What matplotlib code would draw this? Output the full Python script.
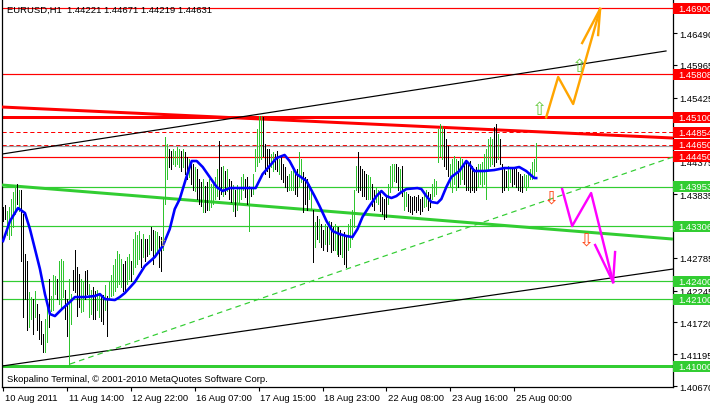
import matplotlib
matplotlib.use("Agg")
import matplotlib.pyplot as plt
from matplotlib.patches import Rectangle

plt.rcParams['font.family'] = ['Liberation Sans', 'DejaVu Sans']
plt.rcParams['lines.scale_dashes'] = False

# ---------------- data ----------------
title_text = "EURUSD,H1  1.44221 1.44671 1.44219 1.44631"
footer_text = "Skopalino Terminal, \u00a9 2001-2010 MetaQuotes Software Corp."

price_ticks = [1.46490, 1.45965, 1.45425, 1.44900, 1.44375, 1.43835,
               1.43310, 1.42785, 1.42245, 1.41720, 1.41195, 1.40670]
date_tick_bars = [0, 32, 64, 96, 128, 160, 192, 224, 256]
date_labels = ["10 Aug 2011", "11 Aug 14:00", "12 Aug 22:00", "16 Aug 07:00",
               "17 Aug 15:00", "18 Aug 23:00", "22 Aug 08:00", "23 Aug 16:00",
               "25 Aug 00:00"]

# hourly bars (one per hour, oldest first)
bar_high = [
    1.4362, 1.4365, 1.4355, 1.4362, 1.4375, 1.4387, 1.4395, 1.4400, 1.4391, 1.4391,
    1.4350, 1.4284, 1.4273, 1.4222, 1.4213, 1.4210, 1.4223, 1.4202, 1.4185, 1.4174,
    1.4152, 1.4177, 1.4205, 1.4243, 1.4215, 1.4250, 1.4248, 1.4243, 1.4273, 1.4276,
    1.4273, 1.4226, 1.4210, 1.4243, 1.4218, 1.4259, 1.4292, 1.4263, 1.4251, 1.4243,
    1.4240, 1.4256, 1.4259, 1.4235, 1.4226, 1.4230, 1.4223, 1.4226, 1.4217, 1.4213,
    1.4217, 1.4233, 1.4215, 1.4240, 1.4250, 1.4266, 1.4276, 1.4289, 1.4284, 1.4276,
    1.4268, 1.4273, 1.4279, 1.4284, 1.4273, 1.4309, 1.4321, 1.4316, 1.4322, 1.4309,
    1.4317, 1.4309, 1.4309, 1.4316, 1.4329, 1.4325, 1.4322, 1.4321, 1.4314, 1.4312,
    1.4378, 1.4477, 1.4466, 1.4457, 1.4454, 1.4457, 1.4454, 1.4461, 1.4457, 1.4454,
    1.4457, 1.4453, 1.4444, 1.4441, 1.4438, 1.4433, 1.4428, 1.4424, 1.4408, 1.4403,
    1.4408, 1.4396, 1.4403, 1.4408, 1.4400, 1.4405, 1.4411, 1.4424, 1.4471, 1.4428,
    1.4429, 1.4421, 1.4424, 1.4408, 1.4405, 1.4398, 1.4391, 1.4398, 1.4395, 1.4411,
    1.4416, 1.4408, 1.4411, 1.4396, 1.4395, 1.4416, 1.4457, 1.4490, 1.4512, 1.4512,
    1.4510, 1.4466, 1.4457, 1.4457, 1.4449, 1.4453, 1.4449, 1.4454, 1.4441, 1.4444,
    1.4433, 1.4428, 1.4413, 1.4416, 1.4421, 1.4428, 1.4421, 1.4424, 1.4453, 1.4441,
    1.4420, 1.4411, 1.4408, 1.4400, 1.4391, 1.4358, 1.4337, 1.4347, 1.4342, 1.4334,
    1.4325, 1.4334, 1.4330, 1.4339, 1.4337, 1.4329, 1.4334, 1.4330, 1.4329, 1.4325,
    1.4317, 1.4321, 1.4312, 1.4334, 1.4342, 1.4358, 1.4391, 1.4429, 1.4453, 1.4429,
    1.4424, 1.4421, 1.4416, 1.4415, 1.4411, 1.4400, 1.4391, 1.4395, 1.4391, 1.4388,
    1.4378, 1.4375, 1.4378, 1.4400, 1.4429, 1.4433, 1.4433, 1.4433, 1.4428, 1.4424,
    1.4429, 1.4391, 1.4387, 1.4383, 1.4380, 1.4378, 1.4380, 1.4378, 1.4382, 1.4375,
    1.4378, 1.4387, 1.4391, 1.4387, 1.4383, 1.4400, 1.4408, 1.4405, 1.4490, 1.4499,
    1.4495, 1.4490, 1.4474, 1.4462, 1.4433, 1.4441, 1.4446, 1.4441, 1.4438, 1.4444,
    1.4441, 1.4433, 1.4438, 1.4433, 1.4438, 1.4429, 1.4424, 1.4428, 1.4433, 1.4433,
    1.4436, 1.4449, 1.4457, 1.4474, 1.4477, 1.4474, 1.4494, 1.4499, 1.4482, 1.4474,
    1.4433, 1.4424, 1.4421, 1.4429, 1.4428, 1.4428, 1.4424, 1.4424, 1.4420, 1.4416,
    1.4413, 1.4416, 1.4415, 1.4420, 1.4424, 1.4436, 1.4441, 1.44671]
bar_low = [
    1.4339, 1.4342, 1.4316, 1.4309, 1.4316, 1.4329, 1.4350, 1.4367, 1.4355, 1.4273,
    1.4180, 1.4210, 1.4160, 1.4165, 1.4177, 1.4152, 1.4180, 1.4160, 1.4144, 1.4136,
    1.4123, 1.4123, 1.4139, 1.4165, 1.4190, 1.4193, 1.4218, 1.4210, 1.4202, 1.4198,
    1.4213, 1.4177, 1.4149, 1.4101, 1.4169, 1.4226, 1.4222, 1.4182, 1.4198, 1.4189,
    1.4190, 1.4210, 1.4218, 1.4180, 1.4185, 1.4177, 1.4177, 1.4193, 1.4180, 1.4174,
    1.4170, 1.4193, 1.4149, 1.4210, 1.4215, 1.4217, 1.4223, 1.4231, 1.4235, 1.4231,
    1.4223, 1.4222, 1.4235, 1.4243, 1.4240, 1.4251, 1.4263, 1.4268, 1.4276, 1.4263,
    1.4279, 1.4273, 1.4281, 1.4284, 1.4292, 1.4268, 1.4279, 1.4288, 1.4263, 1.4256,
    1.4292, 1.4367, 1.4408, 1.4428, 1.4424, 1.4433, 1.4429, 1.4433, 1.4428, 1.4421,
    1.4428, 1.4416, 1.4408, 1.4411, 1.4400, 1.4391, 1.4388, 1.4375, 1.4367, 1.4363,
    1.4354, 1.4354, 1.4358, 1.4358, 1.4362, 1.4367, 1.4375, 1.4380, 1.4375, 1.4383,
    1.4380, 1.4383, 1.4388, 1.4375, 1.4370, 1.4355, 1.4347, 1.4358, 1.4367, 1.4375,
    1.4391, 1.4378, 1.4367, 1.4322, 1.4380, 1.4383, 1.4421, 1.4429, 1.4436, 1.4441,
    1.4446, 1.4416, 1.4421, 1.4411, 1.4428, 1.4421, 1.4424, 1.4421, 1.4416, 1.4408,
    1.4403, 1.4395, 1.4388, 1.4391, 1.4391, 1.4391, 1.4383, 1.4380, 1.4396, 1.4403,
    1.4354, 1.4367, 1.4358, 1.4375, 1.4358, 1.4271, 1.4297, 1.4309, 1.4304, 1.4297,
    1.4292, 1.4301, 1.4289, 1.4301, 1.4288, 1.4292, 1.4292, 1.4284, 1.4281, 1.4284,
    1.4279, 1.4268, 1.4263, 1.4292, 1.4297, 1.4309, 1.4330, 1.4391, 1.4387, 1.4391,
    1.4380, 1.4380, 1.4375, 1.4375, 1.4375, 1.4363, 1.4358, 1.4370, 1.4367, 1.4355,
    1.4350, 1.4342, 1.4345, 1.4367, 1.4387, 1.4395, 1.4405, 1.4403, 1.4391, 1.4388,
    1.4380, 1.4358, 1.4363, 1.4355, 1.4354, 1.4350, 1.4358, 1.4354, 1.4358, 1.4350,
    1.4355, 1.4362, 1.4363, 1.4358, 1.4362, 1.4375, 1.4380, 1.4383, 1.4436, 1.4446,
    1.4441, 1.4429, 1.4424, 1.4413, 1.4396, 1.4387, 1.4400, 1.4391, 1.4395, 1.4400,
    1.4408, 1.4400, 1.4391, 1.4391, 1.4387, 1.4391, 1.4387, 1.4391, 1.4395, 1.4400,
    1.4396, 1.4400, 1.4375, 1.4424, 1.4429, 1.4433, 1.4429, 1.4436, 1.4441, 1.4433,
    1.4387, 1.4391, 1.4395, 1.4391, 1.4403, 1.4396, 1.4400, 1.4395, 1.4391, 1.4388,
    1.4387, 1.4396, 1.4391, 1.4396, 1.4408, 1.4408, 1.4411, 1.44219]
bar_up = [
    0, 0, 1, 1, 1, 1, 1, 0, 1, 0,
    0, 0, 0, 1, 1, 0, 1, 0, 0, 0,
    0, 1, 1, 0, 1, 1, 1, 0, 1, 1,
    1, 0, 0, 1, 1, 0, 0, 0, 0, 1,
    1, 0, 0, 1, 1, 0, 0, 1, 1, 0,
    0, 1, 0, 1, 1, 1, 1, 1, 1, 1,
    0, 0, 1, 1, 0, 1, 1, 1, 1, 0,
    1, 0, 0, 1, 0, 0, 1, 1, 0, 0,
    1, 1, 1, 0, 0, 1, 1, 1, 1, 0,
    1, 0, 0, 1, 0, 0, 1, 0, 0, 0,
    1, 0, 0, 1, 1, 1, 1, 1, 0, 0,
    1, 0, 1, 0, 0, 1, 0, 1, 1, 1,
    1, 0, 0, 1, 0, 1, 1, 1, 1, 1,
    0, 0, 0, 0, 1, 1, 0, 0, 1, 0,
    0, 0, 0, 1, 1, 1, 0, 0, 1, 1,
    0, 0, 0, 1, 1, 0, 1, 0, 1, 0,
    0, 1, 0, 1, 0, 0, 1, 1, 0, 0,
    1, 0, 0, 1, 1, 1, 1, 1, 0, 0,
    0, 0, 0, 1, 1, 0, 0, 1, 1, 0,
    0, 0, 0, 1, 1, 1, 1, 0, 0, 1,
    0, 1, 1, 0, 0, 0, 0, 0, 0, 0,
    0, 1, 1, 0, 0, 1, 1, 1, 1, 1,
    1, 0, 0, 0, 1, 1, 1, 1, 0, 1,
    1, 0, 0, 0, 0, 0, 0, 0, 1, 1,
    1, 1, 1, 1, 1, 1, 0, 0, 1, 0,
    0, 0, 0, 1, 1, 0, 0, 0, 0, 0,
    0, 1, 1, 1, 1, 1, 1, 1]

red_levels = [1.46900, 1.45808, 1.45100, 1.44854, 1.44650, 1.44450]
red_kinds = ["solid", "solid", "thick", "dashed", "dashed", "solid"]
green_levels = [1.43953, 1.43306, 1.42400, 1.42100, 1.41000]
green_kinds = ["solid", "solid", "solid", "solid", "thick"]
bid_price = 1.44631

ma_bar = [0, 3.5, 7.5, 11, 13.5, 16, 18.5, 21, 23.5, 26, 29.5, 33.5, 36, 41, 46,
          48.5, 51, 56, 58.5, 61, 66, 71, 76, 80, 83.5, 86, 88.5, 92, 94.5, 97,
          100, 103.5, 107, 110, 113.5, 126.5, 130, 133.5, 137, 141, 143.5, 147,
          152, 156, 158.5, 162, 165, 168.5, 172, 175, 177.5, 180, 183.5, 187,
          189.5, 192, 194.5, 197, 199.5, 202, 207.5, 209.5, 212, 214.5, 217.5,
          219.5, 222, 224.5, 228.5, 232, 233.5, 236, 241, 246, 251, 256, 258.5,
          262, 266, 267]
ma_price = [1.43060, 1.43390, 1.43605, 1.43522, 1.43258, 1.42929, 1.42599,
            1.42186, 1.41857, 1.41824, 1.41939, 1.42055, 1.42137, 1.42137,
            1.42154, 1.42186, 1.42104, 1.42088, 1.42137, 1.42203, 1.42384,
            1.42648, 1.42797, 1.42978, 1.43258, 1.43588, 1.43753, 1.44132,
            1.44380, 1.44380, 1.44281, 1.44116, 1.43951, 1.43885, 1.43934,
            1.43934, 1.44165, 1.44297, 1.44429, 1.44479, 1.44380, 1.44165,
            1.44050, 1.43802, 1.43638, 1.43390, 1.43225, 1.43176, 1.43143,
            1.43126, 1.43258, 1.43456, 1.43638, 1.43802, 1.43885, 1.43802,
            1.43770, 1.43802, 1.43868, 1.43918, 1.43934, 1.43918, 1.43802,
            1.43704, 1.43687, 1.43753, 1.43951, 1.44116, 1.44215, 1.44380,
            1.44330, 1.44215, 1.44215, 1.44231, 1.44264, 1.44264, 1.44281,
            1.44215, 1.44099, 1.44099]

# trend lines: (bar0, price0, bar1, price1)
red_trend = (-0.5, 1.45270, 335.5, 1.44759)
black_upper = (-0.5, 1.44495, 332.0, 1.46194)
black_lower = (-0.5, 1.41000, 335.5, 1.42599)
green_trend = (-0.5, 1.43984, 335.5, 1.43093)
green_dashed = (33.5, 1.41032, 335.5, 1.44446)

orange_bar = [272, 278, 285.5, 299]
orange_price = [1.45100, 1.45765, 1.45320, 1.46886]
orange_head_bar = [290, 298]
orange_head_price = [1.46325, 1.46457]
magenta_bar = [280, 285, 294.5, 305.5]
magenta_price = [1.43918, 1.43308, 1.43852, 1.42384]
magenta_head_bar = [296.5, 306.5]
magenta_head_price = [1.42995, 1.42879]

up_arrow_bar = [268.5, 288.5]
up_arrow_price = [1.45237, 1.45946]
down_arrow_bar = [274.5, 292.0]
down_arrow_price = [1.43770, 1.43093]
signal_bar = [80]
signal_price = [1.43044]

# ---------------- figure ----------------
W, H = 710, 406
fig = plt.figure(figsize=(W / 100, H / 100), dpi=100)
fig.patch.set_facecolor("white")
ax = fig.add_axes([2 / W, 18 / H, 671 / W, 388 / H])
ax.set_xlim(-0.5, 335.5)
ax.set_ylim(1.40654, 1.47051)
ax.set_facecolor("white")

ax.spines["top"].set_visible(False)
for s in ["left", "right", "bottom"]:
    ax.spines[s].set_color("black")
    ax.spines[s].set_linewidth(0.9)

px = 0.72  # one pixel in points

# horizontal levels
for lv, kind in zip(red_levels, red_kinds):
    if kind == "thick":
        ax.axhline(lv, color="#ff0000", lw=3 * px, zorder=2)
    elif kind == "dashed":
        ax.axhline(lv, color="#ff0000", lw=1 * px, ls=(0, (3, 2)), zorder=2)
    else:
        ax.axhline(lv, color="#ff0000", lw=1.2 * px, zorder=2)
for lv, kind in zip(green_levels, green_kinds):
    if kind == "thick":
        ax.axhline(lv, color="#32cd32", lw=3 * px, zorder=2)
    else:
        ax.axhline(lv, color="#32cd32", lw=1.2 * px, zorder=2)
ax.axhline(bid_price, color="#a0a0a4", lw=1.2 * px, zorder=2)

# trend lines
def seg(t, **kw):
    ax.plot([t[0], t[2]], [t[1], t[3]], **kw)

seg(red_trend, color="#ff0000", lw=3 * px, zorder=3, solid_capstyle="butt")
seg(black_upper, color="black", lw=1.2 * px, zorder=3)
seg(black_lower, color="black", lw=1.2 * px, zorder=3)
seg(green_trend, color="#32cd32", lw=3 * px, zorder=3, solid_capstyle="butt")
seg(green_dashed, color="#32cd32", lw=1.2 * px, ls=(0, (4, 3)), zorder=3)

# price bars
idx = list(range(len(bar_high)))
cols = ["#2fc42f" if u else "black" for u in bar_up]
ax.vlines(idx, bar_low, bar_high, colors=cols, lw=1.0 * px, zorder=4,
          antialiased=False)

# moving average
ax.plot(ma_bar, ma_price, color="#0000ff", lw=2.6 * px, zorder=5)

# projections
ax.plot(orange_bar, orange_price, color="#ffa500", lw=2.4 * px, zorder=6)
for b, p in zip(orange_head_bar, orange_head_price):
    ax.plot([b, orange_bar[-1]], [p, orange_price[-1]], color="#ffa500", lw=2.4 * px, zorder=6)
ax.plot(magenta_bar, magenta_price, color="#ff00ff", lw=2.4 * px, zorder=6)
for b, p in zip(magenta_head_bar, magenta_head_price):
    ax.plot([b, magenta_bar[-1]], [p, magenta_price[-1]], color="#ff00ff", lw=2.4 * px, zorder=6)

for b, p in zip(up_arrow_bar, up_arrow_price):
    ax.text(b, p, "\u21e7", family="DejaVu Sans", fontsize=13, color="#6ccc44",
            ha="center", va="center", zorder=7)
for b, p in zip(down_arrow_bar, down_arrow_price):
    ax.text(b, p, "\u21e9", family="DejaVu Sans", fontsize=13, color="#ff4a1a",
            ha="center", va="center", zorder=7)
for b, p in zip(signal_bar, signal_price):
    ax.text(b, p, "\u21e7", family="DejaVu Sans", fontsize=7, color="#d8d840",
            ha="center", va="center", zorder=7)

# axes ticks
ax.yaxis.tick_right()
ax.set_yticks(price_ticks)
ax.set_yticklabels([f"{v:.5f}" for v in price_ticks])
ax.tick_params(axis="y", direction="out", length=3, width=0.8, pad=1.5,
               labelsize=6.8, colors="black")
ax.set_xticks(date_tick_bars)
ax.set_xticklabels([])
ax.tick_params(axis="x", direction="out", length=3, width=0.8)
for b, lab in zip(date_tick_bars, date_labels):
    ax.annotate(lab, xy=(b, 0), xycoords=("data", "axes fraction"),
                xytext=(1.2, -7.5), textcoords="offset points",
                ha="left", va="center", fontsize=6.8, color="black",
                annotation_clip=False)

# boxed level labels
box_h = 11 / 388 * (1.47051 - 1.40654)
for lv in red_levels + green_levels:
    col = "#ff0000" if lv in red_levels else "#32cd32"
    ax.add_patch(Rectangle((1.0, lv - box_h / 2), 45 / 671, box_h,
                           transform=ax.get_yaxis_transform(), facecolor=col,
                           edgecolor="none", clip_on=False, zorder=10))
    ax.annotate(f"{lv:.5f}", xy=(1.0, lv), xycoords=("axes fraction", "data"),
                xytext=(3.6, 0), textcoords="offset points", ha="left",
                va="center", fontsize=6.8, color="white", zorder=11,
                annotation_clip=False)

# texts
ax.text(5 / 671, 1 - 10 / 388, title_text, transform=ax.transAxes,
        fontsize=6.8, color="black", ha="left", va="center", zorder=8)
ax.text(5 / 671, 8 / 388, footer_text, transform=ax.transAxes,
        fontsize=6.8, color="black", ha="left", va="center", zorder=8)

fig.savefig("out.png", dpi=100)
